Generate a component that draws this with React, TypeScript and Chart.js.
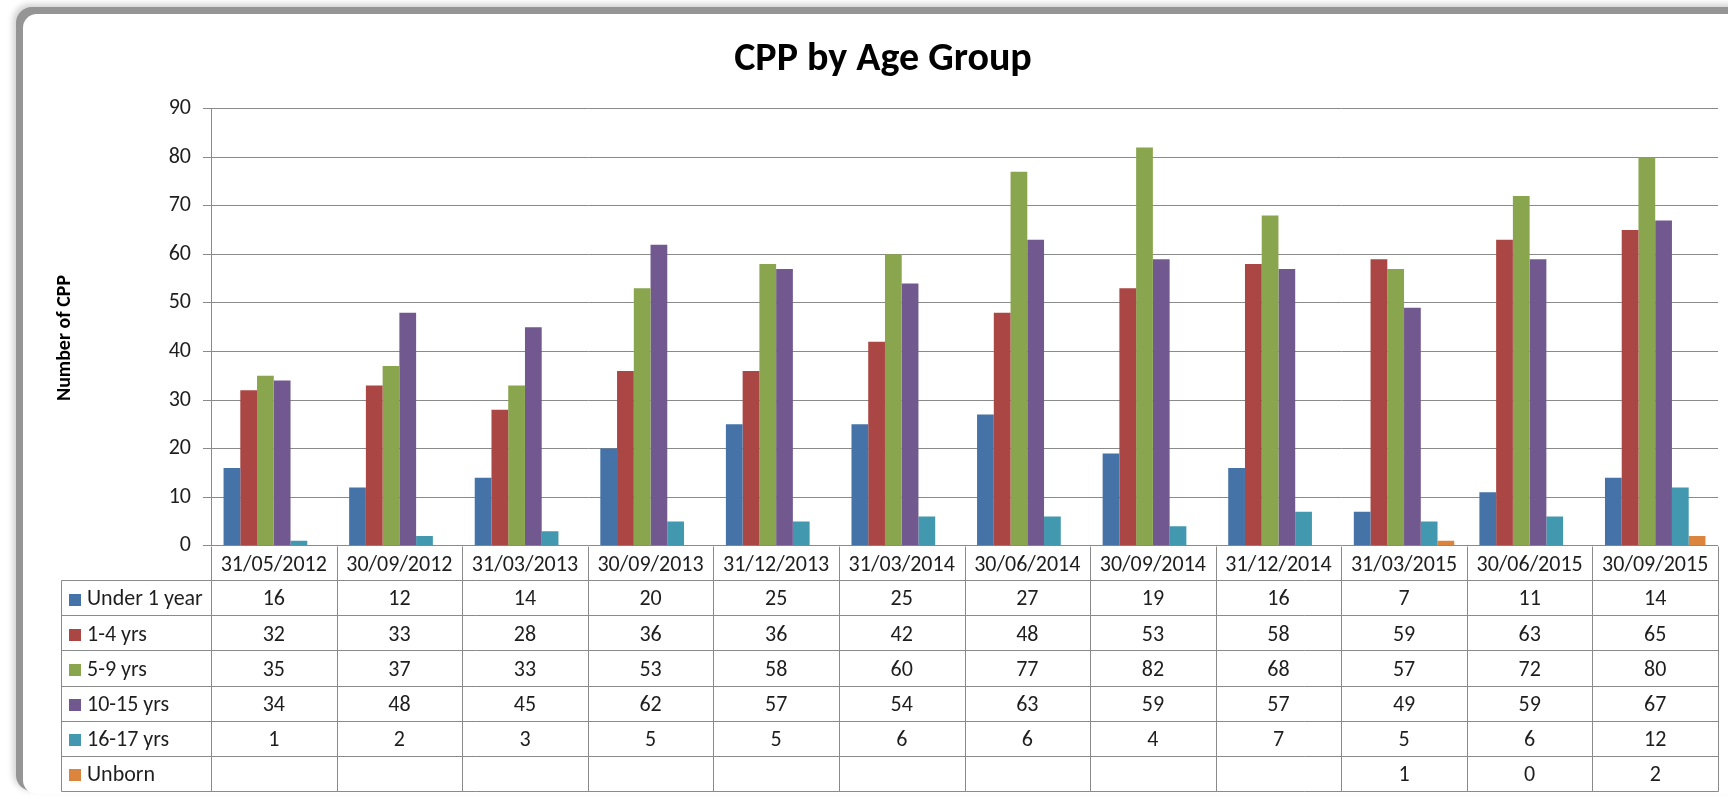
import React, { useEffect, useRef } from "react";
import { Chart, registerables } from "chart.js";

Chart.register(...registerables);

const categories = [
  "31/05/2012", "30/09/2012", "31/03/2013", "30/09/2013", "31/12/2013", "31/03/2014",
  "30/06/2014", "30/09/2014", "31/12/2014", "31/03/2015", "30/06/2015", "30/09/2015",
];
const under1 = [16, 12, 14, 20, 25, 25, 27, 19, 16, 7, 11, 14];
const yrs1to4 = [32, 33, 28, 36, 36, 42, 48, 53, 58, 59, 63, 65];
const yrs5to9 = [35, 37, 33, 53, 58, 60, 77, 82, 68, 57, 72, 80];
const yrs10to15 = [34, 48, 45, 62, 57, 54, 63, 59, 57, 49, 59, 67];
const yrs16to17 = [1, 2, 3, 5, 5, 6, 6, 4, 7, 5, 6, 12];
const unborn = [null, null, null, null, null, null, null, null, null, 1, 0, 2];
const seriesNames = ["Under 1 year", "1-4 yrs", "5-9 yrs", "10-15 yrs", "16-17 yrs", "Unborn"];
const seriesColors = ["#4572a7", "#aa4643", "#89a54e", "#71588f", "#4198af", "#db843d"];
const yTicks = [0, 10, 20, 30, 40, 50, 60, 70, 80, 90];

const FONT = "Carlito, Calibri, Lato, 'Open Sans', sans-serif";
const GRID = "#8a8a8a";
const TEXT = "#1e1e1e";

const W = 1728;
const H = 799;
const PLOT_LEFT = 211;
const PLOT_TOP = 108.7;
const PLOT_RIGHT = 1718;
const PLOT_BOTTOM = 545.7;
const HEADER_BOTTOM = 580;
const ROW_H = 35.17;
const TABLE_LEFT = 61;

const tablePlugin = {
  id: "dataTable",
  afterDraw(chart: any) {
    const ctx = chart.ctx;
    const xs = chart.scales.x;
    const area = chart.chartArea;
    const n = categories.length;
    const cw = (area.right - area.left) / n;
    const rows = [under1, yrs1to4, yrs5to9, yrs10to15, yrs16to17, unborn];
    const tableBottom = HEADER_BOTTOM + ROW_H * rows.length;
    const px = (v: number) => Math.round(v) + 0.5;
    ctx.save();
    ctx.strokeStyle = GRID;
    ctx.lineWidth = 1;
    for (let i = 0; i <= n; i++) {
      const x = px(area.left + i * cw);
      ctx.beginPath();
      ctx.moveTo(x, px(area.bottom));
      ctx.lineTo(x, px(tableBottom));
      ctx.stroke();
    }
    ctx.beginPath();
    ctx.moveTo(px(TABLE_LEFT), px(HEADER_BOTTOM));
    ctx.lineTo(px(TABLE_LEFT), px(tableBottom));
    ctx.stroke();
    for (let r = 0; r <= rows.length; r++) {
      const y = px(HEADER_BOTTOM + r * ROW_H);
      ctx.beginPath();
      ctx.moveTo(px(TABLE_LEFT), y);
      ctx.lineTo(px(area.right), y);
      ctx.stroke();
    }
    ctx.fillStyle = TEXT;
    ctx.font = `22px ${FONT}`;
    ctx.textAlign = "center";
    ctx.textBaseline = "alphabetic";
    for (let i = 0; i < n; i++) {
      const cx = xs.getPixelForValue(i);
      ctx.fillText(categories[i], cx, (area.bottom + HEADER_BOTTOM) / 2 + 7.8);
    }
    for (let r = 0; r < rows.length; r++) {
      const cy = HEADER_BOTTOM + r * ROW_H + ROW_H / 2;
      ctx.fillStyle = seriesColors[r];
      ctx.fillRect(69, Math.round(cy - 4), 12, 12);
      ctx.fillStyle = TEXT;
      ctx.textAlign = "left";
      ctx.fillText(seriesNames[r], 87, cy + 7.8);
      ctx.textAlign = "center";
      for (let i = 0; i < n; i++) {
        const v = rows[r][i];
        if (v === null || v === undefined) continue;
        ctx.fillText(String(v), xs.getPixelForValue(i), cy + 7.8);
      }
    }
    ctx.font = `bold 40px ${FONT}`;
    ctx.textAlign = "center";
    ctx.textBaseline = "alphabetic";
    ctx.fillStyle = "#000";
    ctx.fillText("CPP by Age Group", 883, 70);
    ctx.translate(65, 338);
    ctx.rotate(-Math.PI / 2);
    ctx.font = `bold 20px ${FONT}`;
    ctx.textBaseline = "middle";
    ctx.fillText("Number of CPP", 0, 0);
    ctx.restore();
  },
};

export default function App() {
  const ref = useRef<HTMLCanvasElement | null>(null);
  useEffect(() => {
    document.body.style.margin = "0";
    const canvas = ref.current!;
    const chart = new Chart(canvas, {
      type: "bar",
      data: {
        labels: categories,
        datasets: [under1, yrs1to4, yrs5to9, yrs10to15, yrs16to17, unborn].map((d, i) => ({
          label: seriesNames[i],
          data: d as any,
          backgroundColor: seriesColors[i],
          borderWidth: 0,
          categoryPercentage: 0.8,
          barPercentage: 1.0,
        })),
      },
      options: {
        responsive: false,
        animation: false,
        devicePixelRatio: 1,
        layout: {
          padding: { left: 0, top: PLOT_TOP, right: W - PLOT_RIGHT, bottom: H - PLOT_BOTTOM },
        },
        plugins: {
          legend: { display: false },
          tooltip: { enabled: false },
          title: { display: false },
        },
        scales: {
          x: {
            display: true,
            grid: { display: false },
            border: { display: false },
            ticks: { display: false },
            afterFit: (s: any) => {
              s.height = 0;
            },
          },
          y: {
            min: 0,
            max: 90,
            afterBuildTicks: (s: any) => {
              s.ticks = yTicks.map((v) => ({ value: v }));
            },
            afterFit: (s: any) => {
              s.width = PLOT_LEFT;
            },
            grid: { color: GRID, lineWidth: 1, tickLength: 8, drawTicks: true },
            border: { display: true, color: GRID, width: 1 },
            ticks: {
              padding: 12,
              color: TEXT,
              font: { family: FONT, size: 22 },
            },
          },
        },
      },
      plugins: [tablePlugin],
    });
    return () => chart.destroy();
  }, []);
  return (
    <div style={{ position: "absolute", left: 0, top: 0, width: W, height: H, overflow: "hidden", background: "#fff" }}>
      <div
        style={{
          position: "absolute",
          left: 23,
          top: 14,
          width: 1800,
          height: 780,
          borderRadius: 14,
          background: "#fff",
          boxShadow: "-5px -5px 0 2px #959595, -7px -7px 6px 3px rgba(0,0,0,0.18)",
        }}
      />
      <canvas ref={ref} width={W} height={H} style={{ position: "absolute", left: 0, top: 0, width: W, height: H }} />
    </div>
  );
}
